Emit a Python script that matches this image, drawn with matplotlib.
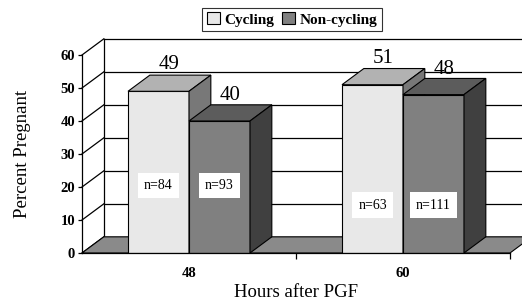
import numpy as np
import matplotlib.pyplot as plt
from matplotlib.patches import Polygon, Patch

# data
hours = ['48', '60']
cycling = [49, 51]
non_cycling = [40, 48]
n_cycling = ['n=84', 'n=63']
n_non_cycling = ['n=93', 'n=111']

plt.rcParams['font.family'] = ['Liberation Serif', 'DejaVu Serif']

fig = plt.figure(figsize=(5.22, 3.03), dpi=100)
ax = fig.add_axes([82 / 522, 50 / 303, 428 / 522, 198 / 303])
ax.set_xlim(-0.5, 1.5)
ax.set_ylim(0, 60)

dx, dy = 0.102, 4.9   # oblique depth in data units
width = 0.285
x = np.arange(len(hours))

# back wall grid lines
for v in range(0, 70, 10):
    ax.plot([-0.5 + dx, 2.0], [v + dy, v + dy], color='black', lw=0.9, clip_on=False, zorder=1)
    ax.plot([-0.5, -0.5 + dx], [v, v + dy], color='black', lw=0.9, clip_on=False, zorder=1)
ax.plot([-0.5 + dx, -0.5 + dx], [dy, 60 + dy], color='black', lw=0.9, clip_on=False, zorder=1)

# floor
floor = Polygon([(-0.5, 0), (1.5, 0), (1.5 + dx, dy), (-0.5 + dx, dy)], closed=True,
                facecolor='#8a8a8a', edgecolor='black', lw=0.8, clip_on=False, zorder=2)
ax.add_patch(floor)


def bar3d(left, h, front, top, side, z):
    r = left + width
    ax.bar(left, h, width=width, align='edge', color=front, edgecolor='black', lw=0.8, zorder=z)
    ax.add_patch(Polygon([(left, h), (r, h), (r + dx, h + dy), (left + dx, h + dy)],
                         facecolor=top, edgecolor='black', lw=0.8, clip_on=False, zorder=z))
    ax.add_patch(Polygon([(r, 0), (r + dx, dy), (r + dx, h + dy), (r, h)],
                         facecolor=side, edgecolor='black', lw=0.8, clip_on=False, zorder=z))


for i in range(len(hours)):
    bar3d(x[i] - width, cycling[i], '#e8e8e8', '#b2b2b2', '#787878', 3 + 2 * i)
    bar3d(x[i], non_cycling[i], '#808080', '#5c5c5c', '#404040', 4 + 2 * i)
    # value labels
    ax.text(x[i] - width / 2 + dx / 2, cycling[i] + dy + 0.3, str(cycling[i]),
            ha='center', va='bottom', fontsize=15, zorder=10)
    ax.text(x[i] + width / 2 + dx / 2, non_cycling[i] + dy - 0.2, str(non_cycling[i]),
            ha='center', va='bottom', fontsize=15, zorder=10)

# n= labels in white boxes
n_y = [20.5, 14.5]
for i in range(len(hours)):
    ax.text(x[i] - width / 2, n_y[i], n_cycling[i], ha='center', va='center', fontsize=10,
            zorder=12, bbox=dict(facecolor='white', edgecolor='none', pad=4.5))
    ax.text(x[i] + width / 2, n_y[i], n_non_cycling[i], ha='center', va='center', fontsize=10,
            zorder=12, bbox=dict(facecolor='white', edgecolor='none', pad=4.5))

# axes styling
for s in ['top', 'right']:
    ax.spines[s].set_visible(False)
ax.spines['left'].set_linewidth(0.9)
ax.spines['bottom'].set_linewidth(0.9)
ax.spines['bottom'].set_zorder(20)
ax.set_facecolor('none')
ax.set_yticks(range(0, 70, 10))
ax.set_yticklabels([str(v) for v in range(0, 70, 10)], fontweight='bold', fontsize=10.5)
ax.tick_params(axis='y', length=3, width=0.9, pad=2)
ax.set_xticks(x)
ax.set_xticklabels(hours, fontweight='bold', fontsize=10.5)
ax.tick_params(axis='x', which='major', length=0, pad=10)
ax.set_xticks([0.5, 1.5], minor=True)
ax.tick_params(axis='x', which='minor', length=4, width=0.9)

ax.set_xlabel('Hours after PGF', fontsize=13.5, labelpad=3)
ax.set_ylabel('Percent Pregnant', fontsize=13.5, labelpad=21)

handles = [Patch(facecolor='#e8e8e8', edgecolor='black', lw=0.8),
           Patch(facecolor='#808080', edgecolor='black', lw=0.8)]
leg = fig.legend(handles, ['Cycling', 'Non-cycling'], loc='center', bbox_to_anchor=(292 / 522, 1 - 19.5 / 303),
                 ncol=2, frameon=True, fancybox=False, edgecolor='black', handlelength=0.85, handleheight=0.85,
                 handletextpad=0.3, columnspacing=0.5, borderpad=0.3, borderaxespad=0,
                 prop={'weight': 'bold', 'size': 11})
leg.get_frame().set_linewidth(0.8)

fig.savefig('out.png', dpi=100)
